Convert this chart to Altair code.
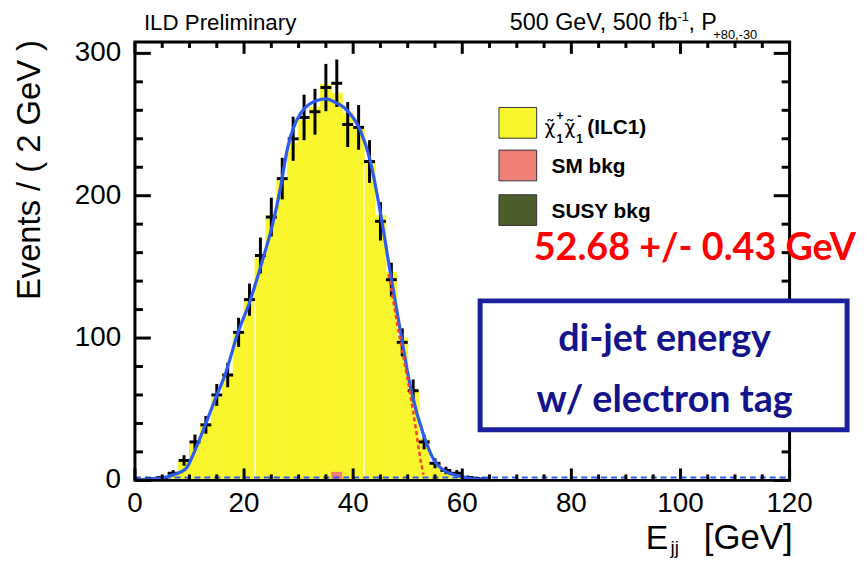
import altair as alt
import pandas as pd

# ---------------- data ----------------
# pseudo-data points (bin centres, counts, errors)
data_x = [3, 5, 7, 9, 11, 13, 15, 17, 19, 21, 23, 25, 27, 29, 31, 33, 35, 37, 39, 41,
          43, 45, 47, 49, 51, 53, 55, 57, 59, 61, 63]
data_y = [1, 2, 5, 14, 27, 39, 60, 74, 104, 127, 158, 185, 212, 240, 255, 259, 276, 279,
          250, 248, 224, 182, 141, 97, 63, 27, 12, 7, 5, 2, 1]
data_err = [1.0, 1.4, 2.2, 3.7, 5.2, 6.2, 7.7, 8.6, 10.2, 11.3, 12.6, 13.6, 14.6, 15.5,
            16.0, 16.1, 16.6, 16.7, 15.8, 15.7, 15.0, 13.5, 11.9, 9.8, 7.9, 5.2, 3.5,
            2.6, 2.2, 1.4, 1.0]

# signal MC histogram (bin centres, counts)
hist_x = [3, 5, 7, 9, 11, 13, 15, 17, 19, 21, 23, 25, 27, 29, 31, 33, 35, 37, 39, 41,
          43, 45, 47, 49, 51, 53, 55, 57, 59, 61]
hist_y = [1, 2, 5, 13, 26, 40, 58, 75, 103, 128, 156, 186, 211, 237, 253, 262, 278, 272,
          258, 247, 223, 186, 146, 100, 64, 29, 12, 5, 2, 1]

# SM background bin
sm_x = [37]
sm_y = [6]

# fitted curve (blue)
fit_x = [0, 3, 5.3, 7, 9.3, 11.1, 12.9, 14.7, 16.5, 18.9, 21, 23.1, 25.3, 26.5, 28, 30.4,
         33.5, 35, 36.5, 38.9, 41.3, 43.1, 45, 46.8, 48.6, 50.7, 52.9, 54.7, 57.1, 59.5, 62, 65]
fit_y = [0.5, 1, 2, 4, 8, 22, 39, 57, 74, 104, 125, 151, 181, 202, 234, 258,
         267, 268, 266, 260, 246, 225, 188, 146, 106, 62, 32, 15, 6, 3, 1, 0.5]

# edge fit (red dashed)
edge_x = [46.5, 48.6, 50.4, 51.5, 52.1, 52.9]
edge_y = [145, 99, 62, 36, 20, 4]

# flat background component (blue dashed)
bkg_x = [0, 120]
bkg_y = [2, 2]

# white gaps seen inside the yellow fill
gap_x = [22, 42]
gap_top = [126, 222]

x_major = [0, 20, 40, 60, 80, 100, 120]
x_minor = [5, 10, 15, 25, 30, 35, 45, 50, 55, 65, 70, 75, 85, 90, 95, 105, 110, 115]
y_major = [0, 100, 200, 300]
y_minor = [20, 40, 60, 80, 120, 140, 160, 180, 220, 240, 260, 280]
x_labels = ["0", "20", "40", "60", "80", "100", "120"]
y_labels = ["0", "100", "200", "300"]

# ---------------- style ----------------
W, H = 660, 442
YELLOW = "#f9f62e"
PINK = "#f08077"
GREEN = "#4b5e2b"
BLUE = "#2c5bf2"
NAVY_BOX = "#1a1f9e"
NAVY_TXT = "#13138c"
FONT = "Liberation Sans"

xs = alt.Scale(domain=[0, 120], nice=False, zero=False)
ys = alt.Scale(domain=[0, 308], nice=False, zero=False)

hist_df = pd.DataFrame({"lo": [c - 1 for c in hist_x], "hi": [c + 1 for c in hist_x], "y": hist_y})
sm_df = pd.DataFrame({"lo": [c - 1 for c in sm_x], "hi": [c + 1 for c in sm_x], "y": sm_y})
pts = pd.DataFrame({"x": data_x, "y": data_y, "e": data_err})
pts["lo"] = pts["y"] - pts["e"]
pts["hi"] = pts["y"] + pts["e"]
pts["xl"] = pts["x"] - 1
pts["xr"] = pts["x"] + 1
fit_df = pd.DataFrame({"x": fit_x, "y": fit_y})
edge_df = pd.DataFrame({"x": edge_x, "y": edge_y})
bkg_df = pd.DataFrame({"x": bkg_x, "y": bkg_y})
gap_df = pd.DataFrame({"x": gap_x, "top": gap_top})
xlab_df = pd.DataFrame({"v": x_major, "t": x_labels})
ylab_df = pd.DataFrame({"v": y_major, "t": y_labels})
one = pd.DataFrame({"k": [0]})

hist = alt.Chart(hist_df).mark_rect(color=YELLOW, stroke=YELLOW, strokeWidth=1).encode(
    x=alt.X("lo:Q", scale=xs, axis=None), x2="hi:Q",
    y=alt.Y("y:Q", scale=ys, axis=None), y2=alt.datum(0))

sm = alt.Chart(sm_df).mark_rect(color=PINK).encode(
    x=alt.X("lo:Q", scale=xs, axis=None), x2="hi:Q",
    y=alt.Y("y:Q", scale=ys, axis=None), y2=alt.datum(0))

gaps = alt.Chart(gap_df).mark_rule(color="white", strokeWidth=1.2).encode(
    x=alt.X("x:Q", scale=xs, axis=None),
    y=alt.Y("top:Q", scale=ys, axis=None), y2=alt.datum(0))

vbars = alt.Chart(pts).mark_rule(color="black", strokeWidth=3).encode(
    x=alt.X("x:Q", scale=xs, axis=None),
    y=alt.Y("lo:Q", scale=ys, axis=None), y2="hi:Q")
hbars = alt.Chart(pts).mark_rule(color="black", strokeWidth=3).encode(
    x=alt.X("xl:Q", scale=xs, axis=None), x2="xr:Q",
    y=alt.Y("y:Q", scale=ys, axis=None))

bkg = alt.Chart(bkg_df).mark_line(color=BLUE, strokeWidth=2, strokeDash=[6, 4]).encode(
    x=alt.X("x:Q", scale=xs, axis=None), y=alt.Y("y:Q", scale=ys, axis=None))
fit = alt.Chart(fit_df).mark_line(color=BLUE, strokeWidth=3.2, interpolate="monotone").encode(
    x=alt.X("x:Q", scale=xs, axis=None), y=alt.Y("y:Q", scale=ys, axis=None))
edge = alt.Chart(edge_df).mark_line(color="#f5402a", strokeWidth=2.5, strokeDash=[4, 3],
                                    interpolate="monotone").encode(
    x=alt.X("x:Q", scale=xs, axis=None), y=alt.Y("y:Q", scale=ys, axis=None))


def xticks(vals, length):
    d = pd.DataFrame({"v": vals})
    b = alt.Chart(d).mark_rule(color="black", strokeWidth=3).encode(
        x=alt.X("v:Q", scale=xs, axis=None), y=alt.value(H), y2=alt.value(H - length))
    t = alt.Chart(d).mark_rule(color="black", strokeWidth=3).encode(
        x=alt.X("v:Q", scale=xs, axis=None), y=alt.value(0), y2=alt.value(length))
    return [b, t]


def yticks(vals, length):
    d = pd.DataFrame({"v": vals})
    l = alt.Chart(d).mark_rule(color="black", strokeWidth=3).encode(
        y=alt.Y("v:Q", scale=ys, axis=None), x=alt.value(0), x2=alt.value(length))
    r = alt.Chart(d).mark_rule(color="black", strokeWidth=3).encode(
        y=alt.Y("v:Q", scale=ys, axis=None), x=alt.value(W), x2=alt.value(W - length))
    return [l, r]


ticks = xticks(x_major, 12) + xticks(x_minor, 6) + yticks(y_major, 16) + yticks(y_minor, 8)

xlabels = alt.Chart(xlab_df).mark_text(font=FONT, fontSize=28, color="black", align="center",
                                       baseline="top").encode(
    x=alt.X("v:Q", scale=xs, axis=None), y=alt.value(H + 10), text="t:N")
ylabels = alt.Chart(ylab_df).mark_text(font=FONT, fontSize=28, color="black", align="right",
                                       baseline="middle").encode(
    y=alt.Y("v:Q", scale=ys, axis=None), x=alt.value(-14), text="t:N")

frame = alt.Chart(one).mark_rect(fill="transparent", stroke="black", strokeWidth=3).encode(
    x=alt.value(0), x2=alt.value(W), y=alt.value(0), y2=alt.value(H))


def txt(s, x, y, size, color="black", font=FONT, weight="normal", align="left",
        baseline="alphabetic", angle=0):
    return alt.Chart(one).mark_text(text=s, font=font, fontSize=size, fontWeight=weight,
                                    color=color, align=align, baseline=baseline,
                                    angle=angle).encode(x=alt.value(x), y=alt.value(y))


def box(x1, x2, y1, y2, fill, stroke, sw):
    return alt.Chart(one).mark_rect(fill=fill, stroke=stroke, strokeWidth=sw).encode(
        x=alt.value(x1), x2=alt.value(x2), y=alt.value(y1), y2=alt.value(y2))


legend = [
    box(367, 405, 66, 97, YELLOW, "#333333", 1),
    box(367, 405, 109, 140, PINK, "#333333", 1),
    box(367, 405, 154, 185, GREEN, "#333333", 1),
    txt("χ̃", 413, 93, 19, font="DejaVu Sans"),
    txt("+", 425, 79, 12, weight="bold"),
    txt("1", 425, 102, 12, weight="bold"),
    txt("χ̃", 433, 93, 19, font="DejaVu Sans"),
    txt("-", 446, 79, 13, weight="bold"),
    txt("1", 445, 102, 12, weight="bold"),
    txt("(ILC1)", 456, 87, 21, weight="bold", baseline="middle"),
    txt("SM bkg", 420, 126, 21, weight="bold", baseline="middle"),
    txt("SUSY bkg", 420, 171, 21, weight="bold", baseline="middle"),
]

texts = [
    txt("ILD Preliminary", 9, -12, 22.5),
    txt("500 GeV, 500 fb", 378, -12, 23.5),
    txt("-1", 547, -21, 13),
    txt(", P", 558, -12, 23.5),
    txt("+80,-30", 583, -3, 13),
    txt("Events / ( 2 GeV )", -106, -2, 33, align="right", baseline="middle", angle=270),
    txt("E", 515, 511, 34),
    txt("jj", 540, 516, 19),
    txt("[GeV]", 663, 511, 35, align="right"),
    txt("52.68 +/- 0.43 GeV", 402, 220, 38, color="#ff0000", font="Lato", weight="bold"),
]

note_box = [
    box(348, 718, 261, 391, "white", NAVY_BOX, 5),
    txt("di-jet energy", 534, 312, 38, color=NAVY_TXT, font="Lato", weight="bold", align="center"),
    txt("w/ electron tag", 534, 373, 38, color=NAVY_TXT, font="Lato", weight="bold", align="center"),
]

chart = alt.layer(
    hist, sm, gaps, bkg, vbars, hbars, fit, edge, *ticks, frame, xlabels, ylabels,
    *legend, *texts, *note_box
).properties(
    width=W, height=H,
    padding={"left": 128, "top": 32, "right": 70, "bottom": 77},
    autosize=alt.AutoSizeParams(type="none"),
    background="white",
).configure_view(strokeWidth=0)

chart.save("out.html", embed_options={"renderer": "svg", "actions": False})
